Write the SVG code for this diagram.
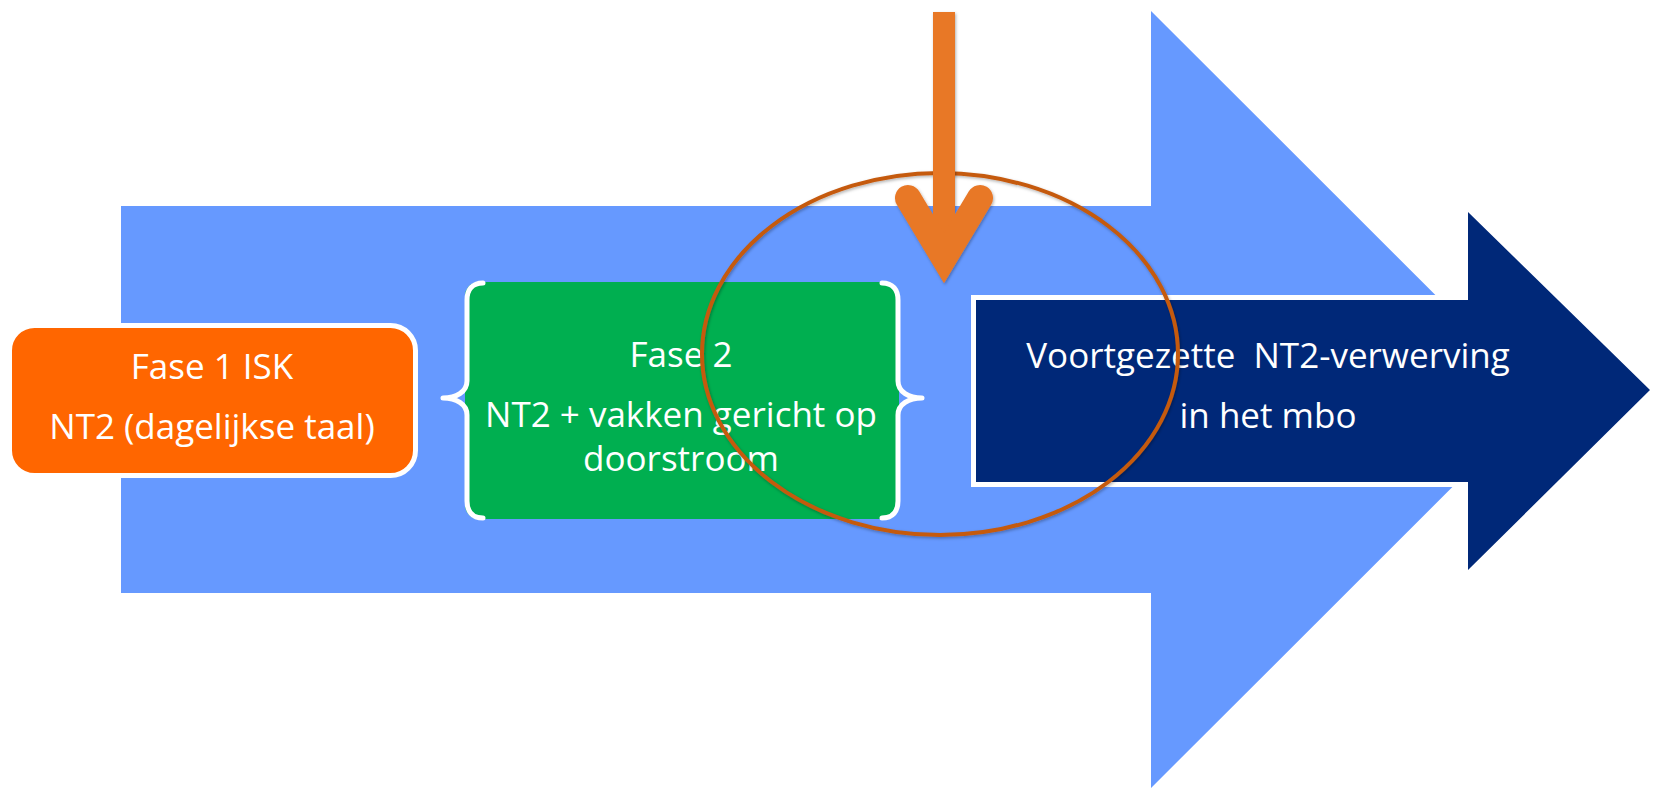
<svg xmlns="http://www.w3.org/2000/svg" width="1653" height="788" viewBox="0 0 1653 788">
<style>
  .t { font-family: "Open Sans", "Liberation Sans", sans-serif; font-size: 35px; fill: #FFFFFF; text-anchor: middle; white-space: pre; }
  .brace { fill: none; stroke: #FFFFFF; stroke-width: 5; stroke-linecap: round; stroke-linejoin: round; }
</style>
<defs>
  <filter id="sh" filterUnits="userSpaceOnUse" x="0" y="0" width="1653" height="788">
    <feDropShadow dx="1" dy="1.5" stdDeviation="1.5" flood-color="#000000" flood-opacity="0.3"/>
  </filter>
</defs>
<rect width="1653" height="788" fill="#FFFFFF"/>

<g id="big-arrow">
  <polygon points="121,206 1151,206 1151,11 1540,399.5 1151,788 1151,593 121,593" fill="#6699FF"/>
</g>

<g id="fase1">
  <rect x="9.5" y="325.5" width="406" height="150" rx="25" fill="#FF6600" stroke="#FFFFFF" stroke-width="5"/>
  <text class="t" x="212" y="379">Fase 1 ISK</text>
  <text class="t" x="212" y="439">NT2 (dagelijkse taal)</text>
</g>

<g id="fase2">
  <rect x="465" y="282" width="434" height="237" rx="14" fill="#00AF50"/>
  <path class="brace" d="M483,283 C472,283 467,290 467,300 L467,381 C467,392 456,398 443,398 C456,398 467,404 467,415 L467,501 C467,511 472,518 483,518"/>
  <path class="brace" d="M882,283 C893,283 898,290 898,300 L898,381 C898,392 909,398 922,398 C909,398 898,404 898,415 L898,501 C898,511 893,518 882,518"/>
  <text class="t" x="681" y="367">Fase 2</text>
  <text class="t" x="681" y="427">NT2 + vakken gericht op</text>
  <text class="t" x="681" y="471">doorstroom</text>
</g>

<g id="mbo">
  <polygon points="976,300 1468,300 1468,212 1650,390 1468,570 1468,482 976,482" fill="#002878" stroke="#FFFFFF" stroke-width="10" stroke-linejoin="miter" paint-order="stroke"/>
  <text class="t" x="1268" y="368">Voortgezette  NT2-verwerving</text>
  <text class="t" x="1268" y="428">in het mbo</text>
</g>

<g id="highlight">
  <ellipse cx="940" cy="354" rx="238" ry="181" fill="none" stroke="#C55A11" stroke-width="4" filter="url(#sh)"/>
</g>

<g id="connectors">
  <g filter="url(#sh)">
    <rect x="933" y="12" width="22" height="250" fill="#E87828"/>
    <polyline points="908,198 944,258 980,198" fill="none" stroke="#E87828" stroke-width="26" stroke-linecap="round" stroke-linejoin="miter" stroke-miterlimit="6"/>
  </g>
</g>
</svg>
